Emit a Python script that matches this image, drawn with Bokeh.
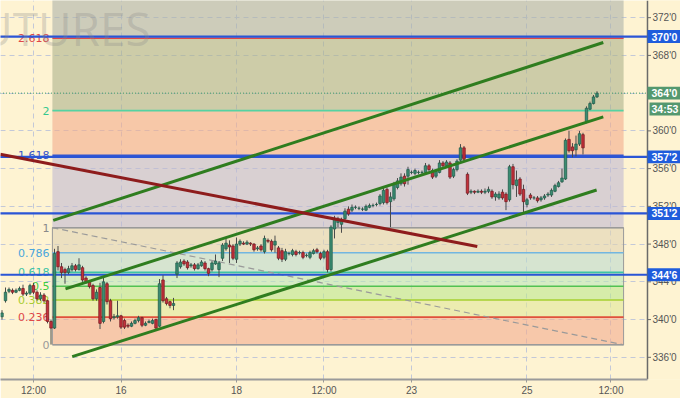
from bokeh.plotting import figure
from bokeh.models import Range1d, FixedTicker, Label, ColumnDataSource
from bokeh.embed import file_html
from bokeh.resources import INLINE
from bokeh.core.properties import value

# ---------------- data ----------------
opens = [340.3, 342.0, 343.0, 343.1, 342.9, 343.1, 343.3, 342.7, 342.8, 343.6,
         342.9, 342.2, 342.6, 342.0, 339.8, 339.1, 347.2, 345.6, 345.3, 345.0,
         345.3, 345.7, 345.3, 345.5, 344.4, 344.0, 343.6, 342.2, 343.4, 339.8,
         343.8, 342.0, 340.2, 340.3, 340.4, 339.9, 339.4, 339.3, 339.6, 339.9,
         340.2, 339.4, 339.7, 339.6, 340.0, 339.3, 344.2, 342.2, 341.9, 341.5,
         344.8, 345.6, 346.2, 346.1, 345.7, 345.8, 345.4, 345.7, 346.0, 345.4,
         345.3, 345.9, 345.3, 346.5, 347.5, 347.9, 347.8, 346.4, 348.0, 348.1,
         348.0, 348.1, 348.0, 347.5, 347.8, 347.2, 348.4, 348.3, 347.9, 347.6,
         347.3, 346.4, 347.0, 346.9, 347.2, 347.1, 347.1, 346.8, 346.6, 347.0,
         347.4, 347.0, 346.6, 347.2, 345.3, 349.6, 350.3, 350.1, 350.7, 351.7,
         351.6, 351.9, 351.8, 351.7, 351.6, 351.9, 352.1, 352.2, 352.3, 352.4,
         353.8, 352.5, 352.8, 354.0, 354.4, 355.2, 355.2, 355.6, 355.5, 355.6,
         355.6, 355.6, 356.3, 355.8, 355.2, 355.6, 356.6, 356.3, 356.6, 355.2,
         355.9, 356.9, 358.2, 355.4, 353.5, 353.6, 353.5, 353.6, 353.5, 353.6,
         353.6, 353.0, 352.9, 353.5, 353.3, 352.7, 356.2, 354.2, 354.9, 353.8,
         352.2, 353.2, 352.9, 352.9, 352.7, 352.9, 353.2, 353.2, 353.6, 354.1,
         354.6, 354.9, 359.1, 358.3, 358.0, 358.6, 359.6, 361.0, 362.3, 362.9,
         363.6]
highs = [341.0, 343.4, 343.4, 343.3, 343.3, 343.5, 343.7, 343.0, 343.8, 343.9,
         343.1, 342.9, 342.8, 342.1, 340.0, 347.5, 347.8, 346.0, 345.5, 345.7,
         346.0, 345.9, 346.5, 345.7, 344.6, 344.2, 343.8, 343.2, 343.9, 344.6,
         344.0, 342.2, 340.6, 342.0, 340.5, 340.1, 339.6, 339.8, 340.1, 340.4,
         340.3, 339.8, 340.0, 340.1, 340.1, 344.3, 344.7, 342.4, 342.0, 342.3,
         346.2, 346.4, 346.4, 346.3, 346.0, 346.0, 346.0, 346.3, 346.2, 345.5,
         346.2, 346.9, 346.2, 348.1, 348.6, 348.4, 348.0, 348.7, 348.5, 348.3,
         348.4, 348.2, 348.1, 347.8, 348.0, 348.9, 348.6, 348.5, 348.9, 347.8,
         347.6, 347.5, 347.2, 347.5, 347.4, 347.3, 347.3, 347.0, 347.3, 347.5,
         347.6, 347.2, 347.4, 347.4, 350.0, 351.0, 350.9, 350.8, 351.8, 352.0,
         352.2, 352.1, 352.0, 351.9, 352.2, 352.3, 352.3, 352.4, 353.3, 354.0,
         354.0, 353.5, 354.6, 355.0, 355.5, 355.5, 356.2, 355.8, 356.0, 355.8,
         355.8, 356.6, 356.5, 356.0, 355.9, 356.9, 356.8, 356.9, 356.8, 356.1,
         357.0, 358.6, 358.4, 355.6, 353.8, 353.7, 353.8, 353.8, 353.9, 354.1,
         353.8, 353.5, 353.6, 353.8, 353.5, 356.4, 356.5, 355.8, 355.1, 354.3,
         352.9, 353.4, 353.1, 353.1, 353.1, 353.3, 353.5, 353.9, 354.4, 354.7,
         356.0, 359.2, 360.0, 358.7, 359.5, 360.0, 359.8, 362.6, 363.1, 363.8,
         364.2]
lows = [340.0, 341.8, 342.8, 342.7, 342.8, 343.0, 342.5, 342.5, 342.6, 342.7,
        342.0, 342.0, 341.8, 339.6, 337.35, 339.0, 345.2, 344.4, 343.8, 344.8,
        345.1, 345.1, 345.2, 344.0, 343.8, 343.3, 342.0, 342.0, 339.0, 339.6,
        341.6, 339.8, 340.0, 340.1, 339.0, 339.0, 339.1, 339.2, 339.5, 339.7,
        339.2, 339.3, 339.6, 339.5, 338.9, 339.2, 341.8, 341.5, 341.2, 341.0,
        344.4, 345.4, 345.7, 345.3, 345.5, 345.2, 345.3, 345.6, 345.2, 344.6,
        345.1, 345.8, 344.5, 346.2, 347.3, 346.0, 346.3, 346.0, 347.8, 347.9,
        347.9, 347.8, 347.2, 347.3, 347.2, 347.0, 348.1, 347.2, 347.1, 346.3,
        346.1, 346.2, 346.8, 346.7, 346.7, 346.9, 346.4, 346.6, 346.4, 346.9,
        347.0, 346.3, 346.4, 345.0, 345.1, 348.6, 349.8, 349.2, 350.5, 351.0,
        351.4, 351.7, 351.6, 351.5, 351.5, 351.8, 351.9, 352.0, 352.1, 352.2,
        352.2, 349.8, 352.6, 353.8, 354.2, 354.1, 354.3, 355.4, 355.3, 355.4,
        355.4, 355.4, 355.7, 354.9, 355.0, 355.5, 356.1, 356.1, 354.9, 355.0,
        355.7, 356.7, 356.8, 353.2, 353.3, 353.3, 353.4, 353.3, 353.3, 353.4,
        352.8, 352.6, 352.7, 352.7, 351.6, 352.5, 353.8, 353.0, 353.1, 351.4,
        351.9, 352.7, 352.7, 352.4, 352.5, 352.7, 353.0, 353.0, 353.5, 354.0,
        354.5, 354.8, 357.7, 357.2, 357.3, 358.4, 357.5, 360.8, 362.2, 362.8,
        363.5]
closes = [340.7, 342.9, 343.2, 342.9, 343.1, 343.3, 342.7, 342.8, 343.6, 342.9,
          342.2, 342.6, 342.0, 339.8, 339.1, 347.0, 345.6, 345.0, 345.0, 345.4,
          345.7, 345.3, 345.8, 344.2, 344.0, 343.5, 342.2, 342.9, 339.6, 344.0,
          341.9, 340.1, 340.3, 340.4, 339.2, 339.2, 339.3, 339.6, 339.9, 340.2,
          339.4, 339.6, 339.8, 339.9, 339.1, 343.8, 342.0, 341.7, 341.5, 341.7,
          346.0, 346.1, 345.9, 345.5, 345.8, 345.4, 345.8, 346.1, 345.4, 344.9,
          346.0, 346.2, 346.0, 347.9, 348.1, 347.7, 346.5, 348.0, 348.3, 348.0,
          348.2, 348.0, 347.4, 347.6, 347.4, 348.6, 348.3, 347.4, 348.3, 346.5,
          346.4, 347.2, 347.0, 347.3, 346.9, 347.1, 346.6, 346.8, 347.1, 347.3,
          347.2, 346.5, 347.2, 345.3, 349.8, 350.7, 350.6, 350.5, 351.5, 351.2,
          351.9, 351.9, 351.8, 351.7, 352.0, 352.1, 352.1, 352.2, 353.1, 353.7,
          352.4, 353.0, 354.4, 354.7, 355.1, 354.4, 355.9, 355.6, 355.8, 355.6,
          355.6, 356.3, 355.9, 355.1, 355.7, 356.6, 356.3, 356.7, 355.1, 355.9,
          356.8, 358.2, 357.0, 353.4, 353.6, 353.5, 353.6, 353.5, 353.6, 353.8,
          353.0, 353.3, 353.3, 352.9, 352.5, 356.2, 354.3, 354.8, 353.3, 352.5,
          352.7, 352.9, 352.9, 352.6, 352.9, 353.1, 353.3, 353.7, 354.2, 354.5,
          355.0, 359.0, 357.9, 357.9, 358.6, 359.7, 358.2, 362.4, 362.9, 363.6,
          364.0]
bar_index = list(range(len(closes)))

x_tick_pos = [9, 34, 67, 92, 117, 150, 174]
x_tick_labels = ["12:00", "16", "18", "12:00", "23", "25", "12:00"]
y_tick_pos = [336, 340, 344, 348, 352, 356, 360, 364, 368, 372]
y_tick_labels = ["336'0", "340'0", "344'0", "348'0", "352'0", "356'0",
                 "360'0", "364'0", "368'0", "372'0"]

fib_low, fib_high = 337.33, 349.74
fib_x_start, fib_x_end = 14.4, 177.6
fib_levels = [0, 0.236, 0.382, 0.5, 0.618, 0.786, 1, 1.618, 2, 2.618]
fib_texts = ["0", "0.236", "0.382", "0.5", "0.618", "0.786", "1", "1.618", "2", "2.618"]
fib_line_colors = ["#9a9a9a", "#e0503c", "#a6d030", "#52c252", "#3cc4a4",
                   "#72b6e0", "#9a9a9a", "#3457d0", "#55d2a2", "#e04848"]
fib_text_colors = ["#9a9a9a", "#e04848", "#a8cc30", "#3fcc3f", "#3cc4a4",
                   "#4aa6dc", "#8a8a8a", "#3a56c8", "#33c88e", "#e04848"]
fib_band_top_level = 4.236
fib_band_colors = ["#f1ab8f", "#e0e799", "#bbe78f", "#bbe7bb", "#bbdacf",
                   "#e0d3b4", "#bfb9d2", "#f1ab8c", "#abb28c", "#abb2aa"]

key_levels = [370.0, 357.25, 351.25, 344.75]
key_level_texts = ["370'0", "357'2", "351'2", "344'6"]
last_price = 364.0
last_price_text = "364'0"
timer_text = "34:53"

channel_x0 = [14.63, 18.14, 20.06]
channel_y0 = [350.51, 343.25, 336.07]
channel_x1 = [171.8, 171.8, 169.9]
channel_y1 = [369.37, 361.48, 353.74]
red_line_x = [-0.5, 135.8]
red_line_y = [357.52, 347.74]

# ---------------- layout constants ----------------
X_START, X_END = -0.43, 193.86      # bar units across the full 680 px frame
AXIS_X = 184.43                     # where the price scale line sits
Y_START, Y_END = 333.65, 373.82
FRAME_H = 382.0
PX_X = (X_END - X_START) / 680.0    # bar units per pixel
PX_Y = (Y_END - Y_START) / FRAME_H  # price units per pixel

BG = "#fef3d2"

p = figure(width=680, height=398, output_backend="svg", toolbar_location=None,
           x_range=Range1d(X_START, X_END), y_range=Range1d(Y_START, Y_END),
           y_axis_location=None,
           min_border_left=0, min_border_top=0, min_border_right=0, min_border_bottom=0)
p.background_fill_color = BG
p.border_fill_color = BG
p.outline_line_color = None

# grids
p.xgrid.ticker = FixedTicker(ticks=x_tick_pos)
p.ygrid.ticker = FixedTicker(ticks=y_tick_pos)
for g in (p.xgrid[0], p.ygrid[0]):
    g.grid_line_color = "#c3c8d8"
    g.grid_line_dash = "5 4"
    g.grid_line_width = 1

# bottom (time) axis
xa = p.xaxis[0]
xa.ticker = FixedTicker(ticks=x_tick_pos)
xa.major_label_overrides = {t: s for t, s in zip(x_tick_pos, x_tick_labels)}
xa.bounds = (X_START, AXIS_X)
xa.axis_line_color = "#9a9a9a"
xa.axis_line_width = 2
xa.major_tick_line_color = "#9a9a9a"
xa.major_tick_out = 3
xa.major_tick_in = 0
xa.minor_tick_line_color = None
xa.major_label_standoff = 2
xa.major_label_text_font = "Liberation Sans"
xa.major_label_text_font_size = "10px"
xa.major_label_text_color = "#555555"

# price-scale area (cover the grid there)
p.quad(left=AXIS_X, right=X_END + 1, bottom=Y_START - 1, top=Y_END + 1,
       fill_color=BG, line_color=None)

# watermark
p.add_layout(Label(x=-13.3, y=370.87, text="FUTURES", text_font="Open Sans",
                   text_font_size="46px", text_color="#8a8a8a", text_alpha=0.3,
                   text_baseline="alphabetic", text_align="left"))

# fibonacci bands
fib_price = [fib_low + lv * (fib_high - fib_low) for lv in fib_levels]
band_bottoms = fib_price
band_tops = fib_price[1:] + [fib_low + fib_band_top_level * (fib_high - fib_low)]
p.quad(left=fib_x_start, right=fib_x_end, bottom=band_bottoms, top=band_tops,
       fill_color=fib_band_colors, fill_alpha=0.6, line_color=None)
p.quad(left=fib_x_start, right=fib_x_end, bottom=fib_price[0], top=fib_price[6],
       fill_color=None, line_color="#9a9a9a", line_width=1)
p.segment(x0=fib_x_start, x1=fib_x_end, y0=fib_price, y1=fib_price,
          line_color=fib_line_colors, line_width=1.6)
p.line(x=[fib_x_start, fib_x_end], y=[fib_price[6], fib_price[0]],
       line_color="#9a9a9a", line_dash="6 4", line_width=1.2)
fsrc = ColumnDataSource(dict(x=[fib_x_start] * len(fib_texts), y=fib_price,
                             t=fib_texts, c=fib_text_colors))
p.text(x="x", y="y", text="t", text_color="c", source=fsrc, x_offset=-3,
       text_align="right", text_baseline="middle",
       text_font=value("DejaVu Sans"), text_font_size="11px")

# key horizontal levels and last-price line
p.segment(x0=X_START - 1, x1=AXIS_X, y0=key_levels, y1=key_levels,
          line_color="#2a55d6", line_width=2.2)
p.line(x=[X_START - 1, AXIS_X], y=[last_price, last_price],
       line_color="#3f9a6a", line_dash="1 2", line_width=1)

# candles
inc_x = [i for i in bar_index if closes[i] >= opens[i]]
dec_x = [i for i in bar_index if closes[i] < opens[i]]
p.segment(x0=bar_index, x1=bar_index, y0=highs, y1=lows,
          line_color="#4a4a4a", line_width=1)
p.vbar(x=inc_x, width=0.7,
       top=[max(opens[i], closes[i]) for i in inc_x],
       bottom=[min(opens[i], closes[i]) for i in inc_x],
       fill_color="#3a8c72", line_color="#22604c", line_width=0.8)
p.vbar(x=dec_x, width=0.7,
       top=[max(opens[i], closes[i]) for i in dec_x],
       bottom=[min(opens[i], closes[i]) for i in dec_x],
       fill_color="#c4303a", line_color="#7a1c22", line_width=0.8)

# trend channel and red line
p.segment(x0=channel_x0, y0=channel_y0, x1=channel_x1, y1=channel_y1,
          line_color="#2f7d1f", line_width=3)
p.line(x=red_line_x, y=red_line_y, line_color="#8e1c1c", line_width=3)

# price scale: line, ticks, labels
p.segment(x0=[AXIS_X], x1=[AXIS_X], y0=[Y_START], y1=[Y_END],
          line_color="#6a6a6a", line_width=1.5)
p.segment(x0=AXIS_X, x1=AXIS_X + 3.5 * PX_X, y0=y_tick_pos, y1=y_tick_pos,
          line_color="#6a6a6a", line_width=1)
p.text(x=AXIS_X + 5 * PX_X, y=y_tick_pos, text=y_tick_labels,
       text_align="left", text_baseline="middle", text_color="#555555",
       text_font=value("Liberation Sans"), text_font_size="10px")

# price boxes on the scale
BOX_H = 13 * PX_Y
box_y = key_levels + [last_price, last_price - 16 * PX_Y]
box_left = [AXIS_X] * 5 + [AXIS_X + 2 * PX_X]
box_color = ["#1f5cdc"] * 4 + ["#54986f", "#54986f"]
box_text = key_level_texts + [last_price_text, timer_text]
p.quad(left=box_left, right=X_END + 1, bottom=[v - BOX_H / 2 for v in box_y],
       top=[v + BOX_H / 2 for v in box_y], fill_color=box_color, line_color=None)
p.text(x=AXIS_X + 4 * PX_X, y=box_y, text=box_text,
       text_align="left", text_baseline="middle", text_color="white",
       text_font=value("Liberation Sans"), text_font_style="bold",
       text_font_size="10.5px")

open("out.html", "w").write(file_html(p, INLINE))
